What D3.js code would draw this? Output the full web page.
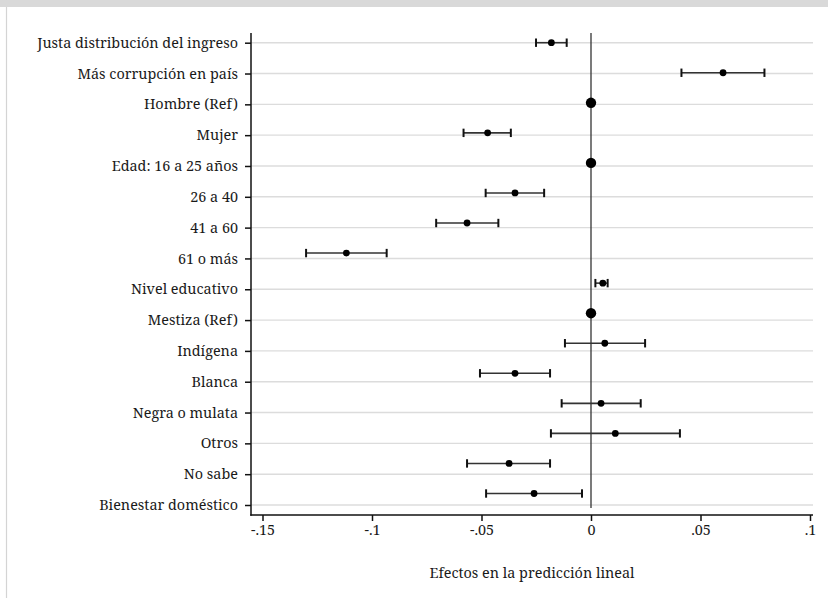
<!DOCTYPE html>
<html>
<head>
<meta charset="utf-8">
<script src="https://cdn.jsdelivr.net/npm/d3@7"></script>
<style>
  html, body { margin: 0; padding: 0; background: #ffffff; }
  svg { display: block; }
  text { font-family: "Noto Serif", serif; fill: #1a1a1a; }
</style>
</head>
<body>
<svg id="chart" width="828" height="598"></svg>
<script>
// ---- data ----
const categories = [
  "Justa distribución del ingreso",
  "Más corrupción en país",
  "Hombre (Ref)",
  "Mujer",
  "Edad: 16 a 25 años",
  "26 a 40",
  "41 a 60",
  "61 o más",
  "Nivel educativo",
  "Mestiza (Ref)",
  "Indígena",
  "Blanca",
  "Negra o mulata",
  "Otros",
  "No sabe",
  "Bienestar doméstico"
];
const estimates = [-0.0181, 0.0603, 0, -0.0472, 0, -0.0347, -0.0566, -0.1117, 0.0054, 0, 0.0063, -0.0347, 0.0046, 0.0111, -0.0374, -0.0260];
const lowerCI   = [-0.0251, 0.0413, null, -0.0582, null, -0.0481, -0.0707, -0.1301, 0.0020, null, -0.0119, -0.0507, -0.0134, -0.0183, -0.0566, -0.0479];
const upperCI   = [-0.0111, 0.0792, null, -0.0366, null, -0.0214, -0.0423, -0.0933, 0.0076, null, 0.0247, -0.0187, 0.0227, 0.0406, -0.0187, -0.0041];
const isReference = [false, false, true, false, true, false, false, false, false, true, false, false, false, false, false, false];
const xTickValues = [-0.15, -0.1, -0.05, 0, 0.05, 0.1];
const xTickLabels = ["-.15", "-.1", "-.05", "0", ".05", ".1"];
const xTitle = "Efectos en la predicción lineal";

// ---- layout ----
const W = 828, H = 598;
const plot = { left: 251, right: 813, top: 33, bottom: 515 };
const FONT = '"Noto Serif", serif';
const FS = 14.4;
const svg = d3.select("#chart");

svg.append("rect").attr("x", 0).attr("y", 0).attr("width", W).attr("height", H).attr("fill", "#ffffff");
// top band of outer frame
svg.append("rect").attr("x", 0).attr("y", 0).attr("width", W).attr("height", 7).attr("fill", "#d9d9d9");
// left frame edge
svg.append("line").attr("x1", 6.5).attr("x2", 6.5).attr("y1", 7).attr("y2", H)
  .attr("stroke", "#d4d4d4").attr("stroke-width", 1.2);

const x = d3.scaleLinear().domain([-0.15, 0.1]).range([262.5, 810]);
const idx = d3.range(categories.length);
const yTick = d3.scaleLinear().domain([0, categories.length - 1]).range([42.7, 505]);
const yMark = d3.scaleLinear().domain([0, categories.length - 1]).range([42.7, 493.5]);

// gridlines
svg.append("g").selectAll("line").data(idx).join("line")
  .attr("x1", plot.left).attr("x2", plot.right)
  .attr("y1", d => yTick(d)).attr("y2", d => yTick(d))
  .attr("stroke", "#dcdcdc").attr("stroke-width", 1.4);

// zero line
svg.append("line")
  .attr("x1", x(0)).attr("x2", x(0))
  .attr("y1", plot.top).attr("y2", 508)
  .attr("stroke", "#333333").attr("stroke-width", 1.3);

// y axis
const yAxis = d3.axisLeft(yTick).tickValues(idx).tickSize(6).tickPadding(7)
  .tickFormat(i => categories[i]);
const gy = svg.append("g").attr("transform", `translate(${plot.left},0)`).call(yAxis);
gy.attr("font-family", null).attr("font-size", null);
gy.select(".domain").remove();
gy.selectAll(".tick line").attr("stroke", "#111").attr("stroke-width", 1.5);
gy.selectAll(".tick text").attr("fill", "#1a1a1a")
  .style("font-family", FONT).style("font-size", FS + "px");
svg.append("line").attr("x1", plot.left).attr("x2", plot.left)
  .attr("y1", plot.top).attr("y2", plot.bottom + 0.75)
  .attr("stroke", "#111").attr("stroke-width", 1.5);

// x axis
const xAxis = d3.axisBottom(x).tickValues(xTickValues).tickSize(6).tickPadding(4)
  .tickFormat((d, i) => xTickLabels[i]);
const gx = svg.append("g").attr("transform", `translate(0,${plot.bottom})`).call(xAxis);
gx.attr("font-family", null).attr("font-size", null);
gx.select(".domain").remove();
gx.selectAll(".tick line").attr("stroke", "#111").attr("stroke-width", 1.5);
gx.selectAll(".tick text").attr("fill", "#1a1a1a")
  .style("font-family", FONT).style("font-size", FS + "px");
svg.append("line").attr("x1", plot.left - 0.75).attr("x2", plot.right)
  .attr("y1", plot.bottom).attr("y2", plot.bottom)
  .attr("stroke", "#111").attr("stroke-width", 1.5);

// x title
svg.append("text").attr("x", (plot.left + plot.right) / 2).attr("y", 578)
  .attr("text-anchor", "middle")
  .style("font-family", FONT).style("font-size", FS + "px").text(xTitle);

// error bars
const ciIdx = idx.filter(i => lowerCI[i] !== null);
const gErr = svg.append("g");
gErr.selectAll("line.bar").data(ciIdx).join("line").attr("class", "bar")
  .attr("x1", i => x(lowerCI[i])).attr("x2", i => x(upperCI[i]))
  .attr("y1", i => yMark(i)).attr("y2", i => yMark(i))
  .attr("stroke", "#333333").attr("stroke-width", 1.6);
gErr.selectAll("line.capL").data(ciIdx).join("line").attr("class", "capL")
  .attr("x1", i => x(lowerCI[i])).attr("x2", i => x(lowerCI[i]))
  .attr("y1", i => yMark(i) - 4.2).attr("y2", i => yMark(i) + 4.2)
  .attr("stroke", "#111").attr("stroke-width", 2);
gErr.selectAll("line.capR").data(ciIdx).join("line").attr("class", "capR")
  .attr("x1", i => x(upperCI[i])).attr("x2", i => x(upperCI[i]))
  .attr("y1", i => yMark(i) - 4.2).attr("y2", i => yMark(i) + 4.2)
  .attr("stroke", "#111").attr("stroke-width", 2);

// points
svg.append("g").selectAll("circle").data(idx).join("circle")
  .attr("cx", i => x(estimates[i]))
  .attr("cy", i => yMark(i))
  .attr("r", i => isReference[i] ? 5.2 : 3.4)
  .attr("fill", "#000");
</script>
</body>
</html>
